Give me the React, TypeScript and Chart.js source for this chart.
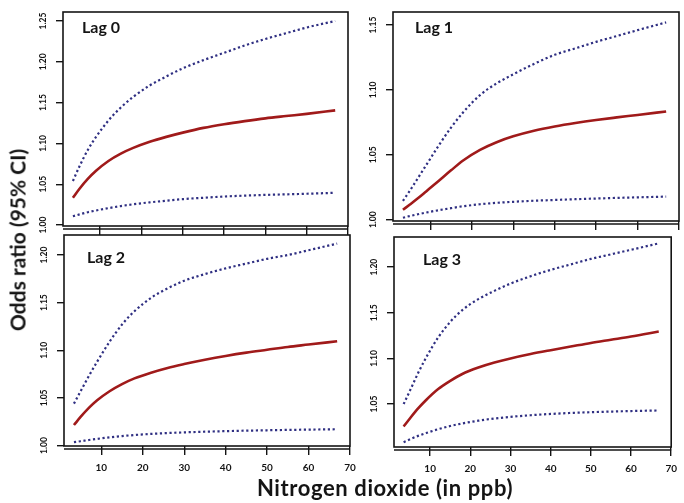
import React, { useEffect, useRef } from "react";
import { Chart, registerables } from "chart.js";
Chart.register(...registerables);

const W = 684;
const H = 503;

// shared x values (NO2, ppb)
const no2 = [3.4, 5, 7, 9, 12, 15, 18, 22, 26, 30, 35, 40, 45, 50, 55, 60, 66.9];
const xTicks = [10, 20, 30, 40, 50, 60, 70];

// Lag 0
const lag0Or = [1.0335, 1.0445, 1.0565, 1.0665, 1.0785, 1.0875, 1.0945, 1.102, 1.108, 1.1132, 1.119, 1.1235, 1.1273, 1.1307, 1.1335, 1.1362, 1.1405];
const lag0Hi = [1.054, 1.072, 1.092, 1.108, 1.128, 1.144, 1.157, 1.171, 1.182, 1.192, 1.202, 1.211, 1.22, 1.228, 1.235, 1.242, 1.25];
const lag0Lo = [1.0107, 1.013, 1.0157, 1.0178, 1.0207, 1.0232, 1.0254, 1.0278, 1.0298, 1.0317, 1.0334, 1.0349, 1.036, 1.0369, 1.0376, 1.0383, 1.0395];
const lag0YTicks = [1.0, 1.05, 1.1, 1.15, 1.2, 1.25];

// Lag 1
const lag1Or = [1.0076, 1.0115, 1.0165, 1.0218, 1.0298, 1.038, 1.0458, 1.0538, 1.0597, 1.0642, 1.0685, 1.0718, 1.0745, 1.0768, 1.0788, 1.0807, 1.0834];
const lag1Hi = [1.0145, 1.022, 1.032, 1.042, 1.057, 1.071, 1.083, 1.096, 1.105, 1.112, 1.12, 1.127, 1.132, 1.137, 1.1415, 1.146, 1.152];
const lag1Lo = [1.0015, 1.0028, 1.0042, 1.0055, 1.0073, 1.0089, 1.0104, 1.0119, 1.013, 1.0138, 1.0146, 1.0152, 1.0158, 1.0163, 1.0168, 1.0172, 1.0178];
const lag1YTicks = [1.0, 1.05, 1.1, 1.15];

// Lag 2
const lag2Or = [1.0215, 1.03, 1.0395, 1.0475, 1.057, 1.0645, 1.0705, 1.0765, 1.0815, 1.0855, 1.09, 1.094, 1.0975, 1.1005, 1.1035, 1.106, 1.1095];
const lag2Hi = [1.044, 1.057, 1.073, 1.088, 1.109, 1.127, 1.141, 1.155, 1.165, 1.173, 1.18, 1.186, 1.191, 1.196, 1.2, 1.205, 1.212];
const lag2Lo = [1.0035, 1.0045, 1.0058, 1.007, 1.0086, 1.0099, 1.011, 1.0122, 1.0131, 1.0138, 1.0145, 1.0151, 1.0156, 1.016, 1.0164, 1.0167, 1.0171];
const lag2YTicks = [1.0, 1.05, 1.1, 1.15, 1.2];

// Lag 3
const lag3Or = [1.0255, 1.0345, 1.0452, 1.0545, 1.0665, 1.0755, 1.083, 1.09, 1.0955, 1.1, 1.1048, 1.109, 1.113, 1.117, 1.1205, 1.124, 1.1295];
const lag3Hi = [1.05, 1.065, 1.084, 1.101, 1.123, 1.14, 1.153, 1.165, 1.174, 1.182, 1.19, 1.197, 1.203, 1.209, 1.214, 1.219, 1.226];
const lag3Lo = [1.0083, 1.0115, 1.0152, 1.0183, 1.0225, 1.026, 1.0288, 1.0318, 1.0342, 1.036, 1.0378, 1.0392, 1.0403, 1.0411, 1.0418, 1.0424, 1.043];
const lag3YTicks = [1.05, 1.1, 1.15, 1.2];

const panelLabels = ["Lag 0", "Lag 1", "Lag 2", "Lag 3"];
const yTitle = "Odds ratio (95% CI)";
const xTitle = "Nitrogen dioxide (in ppb)";

const RED = "#a01a1a";
const BLUE = "#2f2f82";
const INK = "#141414";

type PanelProps = {
  area: [number, number, number, number];
  yMin: number;
  yMax: number;
  yTicks: number[];
  or: number[];
  lo: number[];
  hi: number[];
  showXLabels: boolean;
};

function Panel({ area, yMin, yMax, yTicks, or, lo, hi, showXLabels }: PanelProps) {
  const ref = useRef<HTMLCanvasElement>(null);
  useEffect(() => {
    const [L, T, R, B] = area;
    const XH = 30;
    const dotted = (vals: number[]) => ({
      data: vals.map((y, i) => ({ x: no2[i], y })),
      borderColor: BLUE,
      borderWidth: 2.2,
      borderDash: [2.2, 2.6],
      pointRadius: 0,
      cubicInterpolationMode: "monotone" as const,
      fill: false,
    });
    const framePlugin = {
      id: "frame",
      afterDraw(chart: any) {
        const ctx = chart.ctx;
        const ca = chart.chartArea;
        ctx.save();
        ctx.strokeStyle = INK;
        ctx.lineWidth = 1.6;
        ctx.strokeRect(ca.left, ca.top, ca.right - ca.left, ca.bottom - ca.top);
        ctx.lineWidth = 1.4;
        ctx.beginPath();
        ctx.moveTo(ca.left, ca.bottom + 3);
        ctx.lineTo(ca.right, ca.bottom + 3);
        ctx.stroke();
        const ys = chart.scales.y;
        ctx.fillStyle = INK;
        ctx.font = "bold 8.5px Lato";
        ctx.textAlign = "center";
        ctx.textBaseline = "middle";
        for (const v of yTicks) {
          const py = ys.getPixelForValue(v);
          ctx.save();
          ctx.translate(ca.left - 20, py);
          ctx.rotate(-Math.PI / 2);
          ctx.fillText(v.toFixed(2), 0, 0);
          ctx.restore();
        }
        ctx.restore();
      },
    };
    const chart = new Chart(ref.current as HTMLCanvasElement, {
      type: "line",
      data: {
        datasets: [
          dotted(hi),
          dotted(lo),
          {
            data: or.map((y, i) => ({ x: no2[i], y })),
            borderColor: RED,
            borderWidth: 2.6,
            pointRadius: 0,
            cubicInterpolationMode: "monotone" as const,
            fill: false,
          },
        ],
      },
      options: {
        animation: false,
        responsive: false,
        maintainAspectRatio: false,
        events: [],
        layout: { padding: { left: L, top: T, right: W - R, bottom: H - B - XH } },
        plugins: { legend: { display: false }, tooltip: { enabled: false }, title: { display: false } },
        scales: {
          x: {
            type: "linear",
            min: 1,
            max: 70,
            afterFit: (s: any) => {
              s.height = XH;
            },
            afterBuildTicks: (s: any) => {
              s.ticks = xTicks.map((v) => ({ value: v }));
            },
            grid: { drawOnChartArea: false, drawTicks: true, tickLength: 9, color: INK, lineWidth: 1.4 },
            border: { display: false },
            ticks: {
              display: showXLabels,
              padding: 7,
              autoSkip: false,
              maxRotation: 0,
              minRotation: 0,
              color: INK,
              font: { family: "Lato", weight: "bold", size: 10 },
              callback: (v: any) => String(v),
            },
          },
          y: {
            type: "linear",
            min: yMin,
            max: yMax,
            afterFit: (s: any) => {
              s.width = 0;
            },
            afterBuildTicks: (s: any) => {
              s.ticks = yTicks.map((v) => ({ value: v }));
            },
            grid: { drawOnChartArea: false, drawTicks: true, tickLength: 7, color: INK, lineWidth: 1.4 },
            border: { display: false },
            ticks: { display: false },
          },
        },
      },
      plugins: [framePlugin],
    } as any);
    return () => chart.destroy();
  }, []);
  return (
    <canvas
      ref={ref}
      width={W}
      height={H}
      style={{ position: "absolute", left: 0, top: 0, width: W, height: H }}
    />
  );
}

const labelStyle = (left: number, top: number): React.CSSProperties => ({
  position: "absolute",
  left,
  top,
  font: "bold 16px Lato",
  lineHeight: "16px",
  color: INK,
  whiteSpace: "nowrap",
});

export default function App() {
  return (
    <div
      style={{
        position: "fixed",
        left: 0,
        top: 0,
        width: W,
        height: H,
        background: "#fff",
        overflow: "hidden",
      }}
    >
      <Panel area={[63, 12, 348, 226]} yMin={0.9988} yMax={1.261} yTicks={lag0YTicks} or={lag0Or} lo={lag0Lo} hi={lag0Hi} showXLabels={false} />
      <Panel area={[393, 12, 679, 221]} yMin={0.999} yMax={1.16} yTicks={lag1YTicks} or={lag1Or} lo={lag1Lo} hi={lag1Hi} showXLabels={false} />
      <Panel area={[64, 235, 350, 446]} yMin={0.9995} yMax={1.221} yTicks={lag2YTicks} or={lag2Or} lo={lag2Lo} hi={lag2Hi} showXLabels={true} />
      <Panel area={[394, 237, 680, 447]} yMin={1.003} yMax={1.233} yTicks={lag3YTicks} or={lag3Or} lo={lag3Lo} hi={lag3Hi} showXLabels={true} />
      <div style={labelStyle(82, 18.8)}>{panelLabels[0]}</div>
      <div style={labelStyle(415, 18.8)}>{panelLabels[1]}</div>
      <div style={labelStyle(87, 248.8)}>{panelLabels[2]}</div>
      <div style={labelStyle(423, 250.8)}>{panelLabels[3]}</div>
      <div
        style={{
          position: "absolute",
          left: 17,
          top: 240,
          transform: "translate(-50%, -50%) rotate(-90deg)",
          font: "bold 21px Lato",
          lineHeight: "21px",
          color: INK,
          whiteSpace: "nowrap",
        }}
      >
        {yTitle}
      </div>
      <div
        style={{
          position: "absolute",
          left: 385,
          top: 476.5,
          transform: "translateX(-50%)",
          font: "bold 22px Lato",
          letterSpacing: "0.6px",
          lineHeight: "22px",
          color: INK,
          whiteSpace: "nowrap",
        }}
      >
        {xTitle}
      </div>
    </div>
  );
}
